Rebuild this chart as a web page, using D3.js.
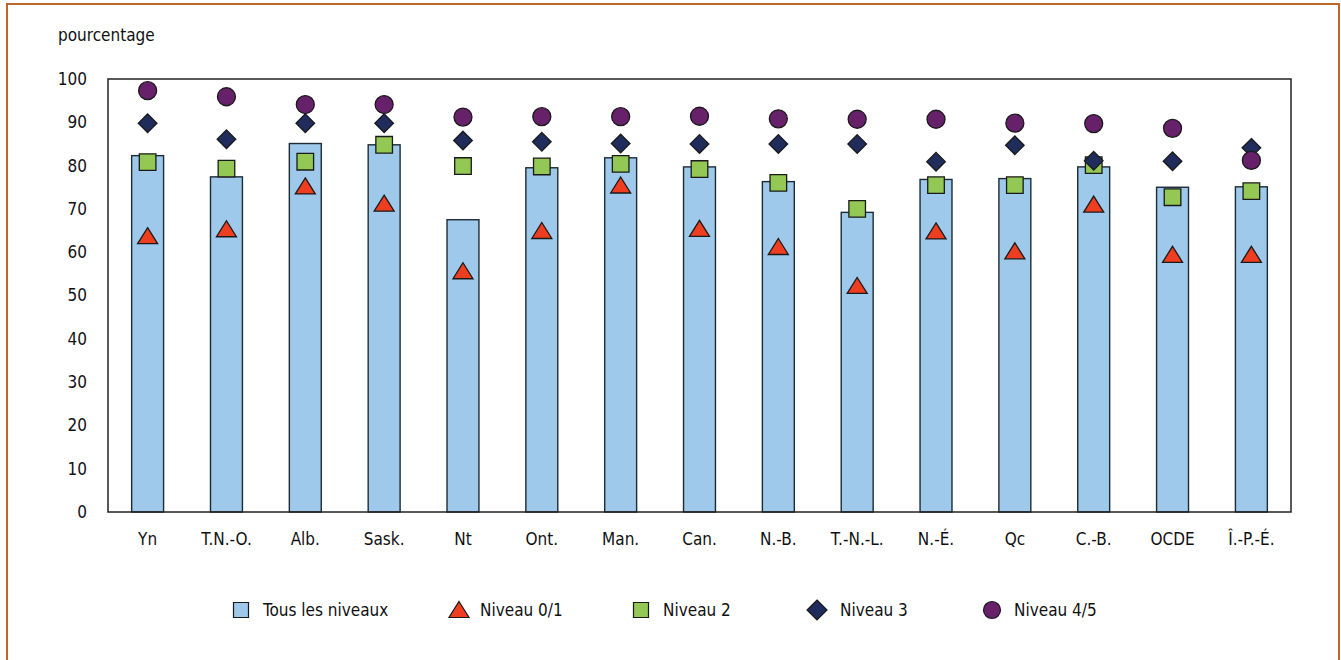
<!DOCTYPE html>
<html><head><meta charset="utf-8">
<script src="https://cdn.jsdelivr.net/npm/d3@7"></script>
<style>
html,body{margin:0;padding:0;background:#fff;}
svg text{font-family:"Liberation Sans Narrow","Arial Narrow","DejaVu Sans Condensed",sans-serif;fill:#111;}
</style></head>
<body>
<svg id="chart" width="1341" height="660"></svg>
<script>
const categories = ["Yn","T.N.-O.","Alb.","Sask.","Nt","Ont.","Man.","Can.","N.-B.","T.-N.-L.","N.-É.","Qc","C.-B.","OCDE","Î.-P.-É."];
const tousLesNiveaux = [82.3,77.4,85.1,84.8,67.5,79.5,81.8,79.7,76.3,69.2,76.8,77.0,79.7,75.0,75.1];
const niveau01 = [63.7,65.3,75.2,71.2,55.6,64.9,75.4,65.4,61.2,52.2,64.8,60.2,71.0,59.4,59.4];
const niveau2 = [80.8,79.3,80.9,84.8,79.9,79.8,80.4,79.2,76.0,70.0,75.5,75.5,80.1,72.7,74.1];
const niveau3 = [89.8,86.1,89.8,89.8,85.8,85.5,85.1,85.0,85.0,85.0,80.9,84.7,81.1,81.0,84.1];
const niveau45 = [97.3,95.9,94.1,94.1,91.2,91.3,91.3,91.4,90.8,90.7,90.7,89.8,89.7,88.6,81.2];
const yTicks = [0,10,20,30,40,50,60,70,80,90,100];
const legendLabels = ["Tous les niveaux","Niveau 0/1","Niveau 2","Niveau 3","Niveau 4/5"];

const svg = d3.select("#chart");
const W = 1341, H = 660;
const m = {left:108, right:50, top:79, bottom:148};
const x = d3.scaleBand().domain(categories).range([m.left, 1291]).paddingInner(0.595).paddingOuter(0.3);
const y = d3.scaleLinear().domain([0,100]).range([512, m.top]);

// outer orange frame
svg.append("rect").attr("x",7).attr("y",4).attr("width",1332).attr("height",670)
  .attr("fill","none").attr("stroke","#c0652b").attr("stroke-width",2);

svg.append("text").attr("x",58).attr("y",41).attr("font-size",17).text("pourcentage");

// y axis labels
const yAxis = d3.axisLeft(y).tickValues(yTicks).tickSize(0).tickPadding(21);
const ga = svg.append("g").attr("transform",`translate(${m.left},0)`).call(yAxis);
ga.select(".domain").remove();
ga.selectAll("text").attr("font-size",17).attr("font-family",null).attr("fill","#111");

// bars
const colors = {bar:"#9ec9ea", tri:"#ef3e1f", sq:"#92c853", dia:"#1f2c5c", circ:"#67216a"};
svg.append("g").selectAll("rect").data(categories).join("rect")
  .attr("x",d=>x(d)).attr("width",x.bandwidth())
  .attr("y",(d,i)=>y(tousLesNiveaux[i])).attr("height",(d,i)=>y(0)-y(tousLesNiveaux[i]))
  .attr("fill",colors.bar).attr("stroke","#1d2b36").attr("stroke-width",1.4);

// plot frame
svg.append("rect").attr("x",m.left).attr("y",y(100)).attr("width",1291-m.left).attr("height",y(0)-y(100))
  .attr("fill","none").attr("stroke","#222").attr("stroke-width",1.5);

// x axis labels
const xAxis = d3.axisBottom(x).tickSize(0).tickPadding(21);
const gx = svg.append("g").attr("transform",`translate(0,${y(0)})`).call(xAxis);
gx.select(".domain").remove();
gx.selectAll("text").attr("font-size",17).attr("font-family",null).attr("fill","#111");

const cx = d => x(d) + x.bandwidth()/2;
function markers(vals, path, fill){
  svg.append("g").selectAll("path").data(categories).join("path")
    .attr("transform",(d,i)=>`translate(${cx(d)},${y(vals[i])})`)
    .attr("d",path).attr("fill",fill).attr("stroke","#1a1a1a").attr("stroke-width",1.3);
}
const triPath = "M0,-8.5L10,7.5L-10,7.5Z";
const sqPath = "M-8.3,-8.3H8.3V8.3H-8.3Z";
const diaPath = "M0,-9.3L9.3,0L0,9.3L-9.3,0Z";
const circPath = d3.arc()({innerRadius:0,outerRadius:9,startAngle:0,endAngle:2*Math.PI});

markers(niveau01, triPath, colors.tri);
markers(niveau2, sqPath, colors.sq);
markers(niveau3, diaPath, colors.dia);
markers(niveau45, circPath, colors.circ);

// legend
const legY = 610;
const legItems = [
  {label:legendLabels[0], mx:241, tx:263, path:"M-7.5,-7.5H7.5V7.5H-7.5Z", fill:colors.bar},
  {label:legendLabels[1], mx:459, tx:480, path:"M0,-8.5L10,7.5L-10,7.5Z", fill:colors.tri},
  {label:legendLabels[2], mx:641, tx:663, path:"M-7.5,-7.5H7.5V7.5H-7.5Z", fill:colors.sq},
  {label:legendLabels[3], mx:817, tx:840, path:"M0,-10L10,0L0,10L-10,0Z", fill:colors.dia},
  {label:legendLabels[4], mx:992, tx:1014, path:d3.arc()({innerRadius:0,outerRadius:8.5,startAngle:0,endAngle:2*Math.PI}), fill:colors.circ}
];
const lg = svg.append("g").selectAll("g").data(legItems).join("g");
lg.append("path").attr("transform",d=>`translate(${d.mx},${legY})`).attr("d",d=>d.path)
  .attr("fill",d=>d.fill).attr("stroke","#1a1a1a").attr("stroke-width",1.2);
lg.append("text").attr("x",d=>d.tx).attr("y",legY).attr("dy","0.35em").attr("font-size",17).text(d=>d.label);
</script>
</body></html>
